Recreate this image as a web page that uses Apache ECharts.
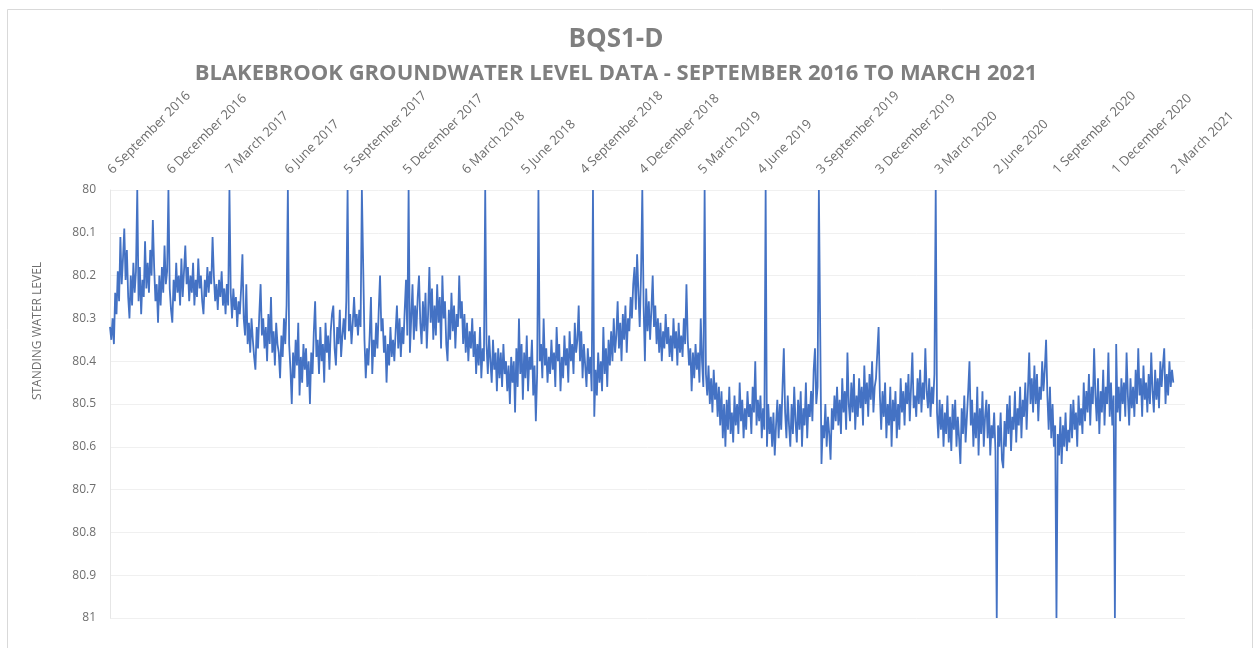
<!DOCTYPE html>
<html>
<head>
<meta charset="utf-8">
<title>BQS1-D groundwater level</title>
<script src="https://cdn.jsdelivr.net/npm/echarts@6/dist/echarts.min.js"></script>
<style>
  html, body { margin: 0; padding: 0; background: #ffffff; }
  #chart { width: 1260px; height: 648px; }
</style>
</head>
<body>
<div id="chart"></div>
<script>
// Quarterly date labels along the top axis (91 days apart)
const tickLabels = [
  '6 September 2016', '6 December 2016', '7 March 2017', '6 June 2017',
  '5 September 2017', '5 December 2017', '6 March 2018', '5 June 2018',
  '4 September 2018', '4 December 2018', '5 March 2019', '4 June 2019',
  '3 September 2019', '3 December 2019', '3 March 2020', '2 June 2020',
  '1 September 2020', '1 December 2020', '2 March 2021'
];
const LABEL_STEP_DAYS = 91;

// Standing water level readings, one every 2 days from 6 September 2016
// (80 / 81 entries are the logger download days, off the scale)
const SAMPLE_STEP_DAYS = 2;
const levels = [
  80.32, 80.35, 80.30, 80.36, 80.24, 80.29, 80.19, 80.26, 80.11, 80.22,
  80.16, 80.09, 80.21, 80.14, 80.25, 80.30, 80.20, 80.27, 80.17, 80.24,
  80.19, 80.00, 80.26, 80.18, 80.29, 80.21, 80.25, 80.12, 80.23, 80.17,
  80.24, 80.14, 80.20, 80.07, 80.18, 80.26, 80.22, 80.31, 80.20, 80.27,
  80.18, 80.24, 80.13, 80.22, 80.19, 80.00, 80.23, 80.28, 80.31, 80.21,
  80.26, 80.17, 80.24, 80.20, 80.27, 80.16, 80.25, 80.19, 80.13, 80.22,
  80.18, 80.26, 80.20, 80.24, 80.17, 80.27, 80.21, 80.25, 80.16, 80.23,
  80.20, 80.26, 80.29, 80.21, 80.25, 80.18, 80.24, 80.19, 80.22, 80.11,
  80.20, 80.26, 80.22, 80.28, 80.21, 80.25, 80.19, 80.27, 80.23, 80.29,
  80.22, 80.27, 80.00, 80.24, 80.30, 80.23, 80.28, 80.25, 80.32, 80.26,
  80.29, 80.23, 80.15, 80.30, 80.34, 80.22, 80.36, 80.31, 80.38, 80.30,
  80.35, 80.39, 80.42, 80.32, 80.37, 80.29, 80.22, 80.34, 80.30, 80.37,
  80.32, 80.40, 80.29, 80.36, 80.25, 80.38, 80.33, 80.41, 80.31, 80.36,
  80.38, 80.44, 80.34, 80.39, 80.30, 80.36, 80.27, 80.00, 80.36, 80.42,
  80.50, 80.38, 80.44, 80.35, 80.41, 80.31, 80.48, 80.39, 80.45, 80.36,
  80.42, 80.37, 80.46, 80.40, 80.50, 80.38, 80.43, 80.33, 80.26, 80.39,
  80.35, 80.43, 80.32, 80.40, 80.36, 80.45, 80.31, 80.38, 80.34, 80.42,
  80.33, 80.29, 80.27, 80.37, 80.41, 80.32, 80.36, 80.28, 80.39, 80.34,
  80.30, 80.35, 80.26, 80.00, 80.33, 80.29, 80.36, 80.31, 80.25, 80.32,
  80.29, 80.34, 80.28, 80.32, 80.00, 80.00, 80.35, 80.44, 80.37, 80.41,
  80.34, 80.25, 80.43, 80.35, 80.39, 80.31, 80.37, 80.28, 80.20, 80.33,
  80.30, 80.38, 80.34, 80.45, 80.36, 80.41, 80.32, 80.39, 80.35, 80.40,
  80.33, 80.27, 80.37, 80.30, 80.39, 80.32, 80.36, 80.28, 80.21, 80.34,
  80.00, 80.38, 80.30, 80.22, 80.35, 80.27, 80.33, 80.25, 80.20, 80.31,
  80.36, 80.26, 80.33, 80.24, 80.37, 80.29, 80.18, 80.31, 80.23, 80.35,
  80.27, 80.34, 80.22, 80.31, 80.25, 80.37, 80.20, 80.30, 80.26, 80.36,
  80.40, 80.28, 80.35, 80.24, 80.33, 80.27, 80.37, 80.29, 80.32, 80.20,
  80.30, 80.26, 80.36, 80.29, 80.38, 80.31, 80.40, 80.33, 80.37, 80.30,
  80.39, 80.33, 80.43, 80.36, 80.41, 80.32, 80.44, 80.37, 80.40, 80.00,
  80.36, 80.43, 80.34, 80.40, 80.45, 80.35, 80.42, 80.38, 80.47, 80.37,
  80.44, 80.38, 80.46, 80.36, 80.43, 80.40, 80.47, 80.41, 80.50, 80.39,
  80.45, 80.40, 80.52, 80.37, 80.46, 80.30, 80.43, 80.36, 80.49, 80.38,
  80.44, 80.34, 80.47, 80.39, 80.42, 80.35, 80.48, 80.41, 80.54, 80.43,
  80.00, 80.40, 80.36, 80.44, 80.30, 80.41, 80.37, 80.45, 80.39, 80.43,
  80.35, 80.42, 80.38, 80.46, 80.32, 80.40, 80.36, 80.47, 80.39, 80.44,
  80.34, 80.41, 80.37, 80.45, 80.33, 80.40, 80.36, 80.43, 80.31, 80.38,
  80.35, 80.27, 80.40, 80.33, 80.44, 80.36, 80.41, 80.46, 80.37, 80.43,
  80.39, 80.47, 80.00, 80.53, 80.42, 80.48, 80.38, 80.45, 80.40, 80.47,
  80.32, 80.43, 80.37, 80.46, 80.35, 80.41, 80.33, 80.40, 80.30, 80.38,
  80.34, 80.26, 80.37, 80.31, 80.40, 80.29, 80.35, 80.27, 80.38, 80.30,
  80.33, 80.25, 80.30, 80.22, 80.18, 80.28, 80.15, 80.24, 80.32, 80.20,
  80.00, 80.27, 80.40, 80.23, 80.33, 80.26, 80.35, 80.28, 80.20, 80.32,
  80.27, 80.36, 80.30, 80.38, 80.31, 80.40, 80.33, 80.37, 80.29, 80.36,
  80.32, 80.39, 80.34, 80.40, 80.30, 80.37, 80.33, 80.41, 80.31, 80.38,
  80.34, 80.39, 80.30, 80.36, 80.22, 80.35, 80.41, 80.37, 80.47, 80.38,
  80.44, 80.36, 80.42, 80.38, 80.45, 80.30, 80.40, 80.46, 80.00, 80.43,
  80.48, 80.41, 80.50, 80.44, 80.52, 80.42, 80.49, 80.45, 80.53, 80.46,
  80.55, 80.47, 80.58, 80.50, 80.60, 80.49, 80.56, 80.46, 80.57, 80.52,
  80.59, 80.48, 80.55, 80.50, 80.57, 80.45, 80.54, 80.49, 80.58, 80.51,
  80.56, 80.47, 80.53, 80.50, 80.57, 80.46, 80.52, 80.40, 80.55, 80.49,
  80.54, 80.48, 80.58, 80.51, 80.56, 80.00, 80.60, 80.50, 80.57, 80.53,
  80.60, 80.52, 80.62, 80.55, 80.49, 80.58, 80.50, 80.56, 80.46, 80.37,
  80.52, 80.58, 80.48, 80.55, 80.60, 80.50, 80.57, 80.46, 80.54, 80.59,
  80.49, 80.56, 80.47, 80.60, 80.51, 80.55, 80.45, 80.58, 80.50, 80.53,
  80.47, 80.54, 80.42, 80.37, 80.50, 80.46, 80.00, 80.00, 80.64, 80.55,
  80.58, 80.50, 80.60, 80.53, 80.57, 80.63, 80.51, 80.56, 80.48, 80.54,
  80.46, 80.55, 80.49, 80.57, 80.44, 80.52, 80.47, 80.56, 80.38, 80.50,
  80.54, 80.45, 80.52, 80.43, 80.56, 80.48, 80.53, 80.44, 80.51, 80.46,
  80.55, 80.41, 80.50, 80.45, 80.53, 80.43, 80.49, 80.40, 80.52, 80.46,
  80.44, 80.38, 80.32, 80.48, 80.56, 80.47, 80.53, 80.45, 80.58, 80.50,
  80.55, 80.46, 80.60, 80.49, 80.54, 80.47, 80.58, 80.50, 80.56, 80.44,
  80.52, 80.47, 80.55, 80.45, 80.50, 80.43, 80.54, 80.46, 80.38, 80.51,
  80.48, 80.53, 80.44, 80.50, 80.42, 80.52, 80.45, 80.49, 80.37, 80.47,
  80.51, 80.44, 80.53, 80.46, 80.50, 80.43, 80.00, 80.52, 80.58, 80.49,
  80.56, 80.50, 80.60, 80.52, 80.57, 80.48, 80.59, 80.53, 80.61, 80.50,
  80.56, 80.49, 80.60, 80.53, 80.58, 80.64, 80.51, 80.57, 80.48, 80.59,
  80.53, 80.47, 80.40, 80.55, 80.49, 80.60, 80.52, 80.58, 80.46, 80.62,
  80.51, 80.57, 80.47, 80.60, 80.53, 80.49, 80.58, 80.50, 80.62, 80.55,
  80.58, 80.52, 80.61, 81.00, 80.55, 80.60, 80.52, 80.63, 80.65, 80.54,
  80.60, 80.50, 80.57, 80.48, 80.61, 80.53, 80.56, 80.47, 80.59, 80.51,
  80.55, 80.46, 80.58, 80.49, 80.53, 80.45, 80.56, 80.47, 80.38, 80.50,
  80.44, 80.52, 80.41, 80.50, 80.43, 80.54, 80.46, 80.49, 80.40, 80.47,
  80.42, 80.35, 80.48, 80.56, 80.46, 80.58, 80.50, 80.60, 80.55, 81.00,
  80.57, 80.62, 80.53, 80.64, 80.55, 80.60, 80.52, 80.61, 80.56, 80.59,
  80.50, 80.58, 80.49, 80.56, 80.52, 80.60, 80.48, 80.55, 80.51, 80.57,
  80.45, 80.54, 80.47, 80.52, 80.43, 80.55, 80.46, 80.50, 80.37, 80.48,
  80.54, 80.44, 80.57, 80.47, 80.52, 80.42, 80.55, 80.46, 80.50, 80.38,
  80.53, 80.45, 80.55, 80.48, 81.00, 80.36, 80.52, 80.46, 80.54, 80.44,
  80.50, 80.45, 80.53, 80.38, 80.48, 80.55, 80.44, 80.51, 80.46, 80.53,
  80.42, 80.50, 80.37, 80.48, 80.44, 80.53, 80.41, 80.49, 80.45, 80.52,
  80.43, 80.50, 80.38, 80.47, 80.52, 80.42, 80.49, 80.44, 80.51, 80.40,
  80.46, 80.41, 80.37, 80.50, 80.43, 80.48, 80.40, 80.46, 80.42, 80.45
];

const TEXT_GREY = '#7f7f7f';
const LABEL_GREY = '#6e6e6e';
const FONT = '"Open Sans", Lato, sans-serif';
const TITLE_CENTER_X = 611;

const chart = echarts.init(document.getElementById('chart'), null, { renderer: 'canvas' });

chart.setOption({
  animation: false,
  backgroundColor: '#ffffff',
  title: [
    {
      text: 'BQS1-D',
      left: TITLE_CENTER_X,
      textAlign: 'center',
      top: 22,
      textStyle: { color: TEXT_GREY, fontFamily: FONT, fontWeight: 'bold', fontSize: 26 }
    },
    {
      text: 'BLAKEBROOK GROUNDWATER LEVEL DATA - SEPTEMBER 2016 TO MARCH 2021',
      left: TITLE_CENTER_X,
      textAlign: 'center',
      top: 58,
      textStyle: { color: TEXT_GREY, fontFamily: FONT, fontWeight: 'bold', fontSize: 22 }
    }
  ],
  graphic: [
    {
      type: 'rect',
      silent: true,
      shape: { x: 7.5, y: 9.5, width: 1245, height: 660 },
      style: { fill: 'none', stroke: '#d9d9d9', lineWidth: 1 }
    },
    {
      type: 'text',
      silent: true,
      x: 38,
      y: 331,
      rotation: Math.PI / 2,
      style: {
        text: 'STANDING WATER LEVEL',
        fill: LABEL_GREY,
        font: '12px ' + FONT,
        textAlign: 'center',
        textVerticalAlign: 'middle'
      }
    }
  ],
  grid: { left: 110, right: 75, top: 190, bottom: 30 },
  xAxis: {
    type: 'value',
    position: 'top',
    min: 0,
    max: 1656,
    interval: LABEL_STEP_DAYS,
    axisLine: { show: false },
    axisTick: { show: false },
    splitLine: { show: false },
    axisLabel: {
      rotate: -45,
      margin: 18,
      color: LABEL_GREY,
      fontFamily: FONT,
      fontSize: 13,
      formatter: function (v) {
        const k = v / LABEL_STEP_DAYS;
        return Number.isInteger(k) && k < tickLabels.length ? tickLabels[k] : '';
      }
    }
  },
  yAxis: {
    type: 'value',
    inverse: true,
    min: 80,
    max: 81,
    interval: 0.1,
    axisLine: { show: true, onZero: false, lineStyle: { color: '#e6e6e6' } },
    axisTick: { show: false },
    splitLine: { show: true, lineStyle: { color: '#f0f0f0', width: 1 } },
    axisLabel: { color: LABEL_GREY, fontFamily: FONT, fontSize: 12, margin: 14 }
  },
  series: [
    {
      type: 'line',
      name: 'Standing water level',
      data: levels.map((v, i) => [i * SAMPLE_STEP_DAYS, v]),
      showSymbol: false,
      symbol: 'none',
      clip: true,
      lineStyle: { color: '#4472C4', width: 1.8 },
      itemStyle: { color: '#4472C4' }
    }
  ]
});
</script>
</body>
</html>
